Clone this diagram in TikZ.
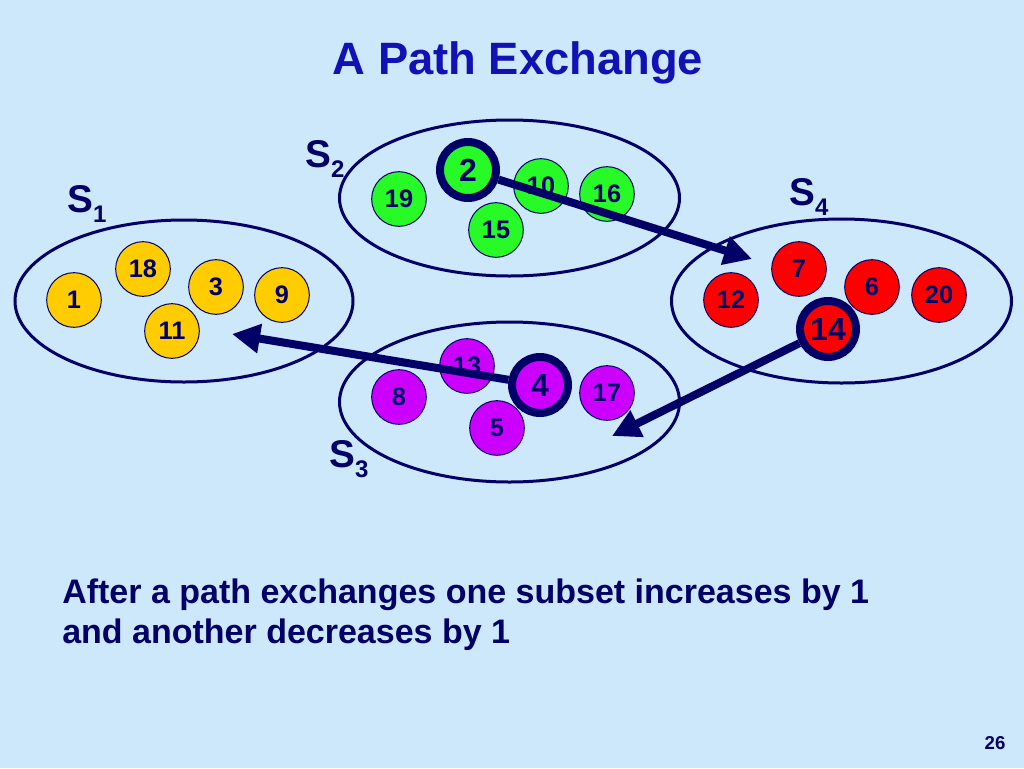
\documentclass[tikz,border=0pt]{standalone}
\usepackage{fontspec}
\setmainfont{Liberation Sans}
\usetikzlibrary{arrows.meta}
\definecolor{bg}{RGB}{204,232,250}
\definecolor{navy}{RGB}{0,0,102}
\definecolor{titleblue}{RGB}{17,17,180}
\definecolor{cgreen}{RGB}{40,250,40}
\definecolor{cyellow}{RGB}{255,204,0}
\definecolor{cred}{RGB}{255,0,0}
\definecolor{cpurple}{RGB}{204,0,255}
\newcommand{\setname}[1]{S{\fontsize{18}{18}\selectfont\raisebox{-7.5pt}{#1}}}
\begin{document}
\begin{tikzpicture}[x=0.75pt,y=-0.75pt,
  elem/.style={circle,draw=navy,line width=0.75pt,minimum size=41pt,inner sep=0pt,
    font=\fontsize{19}{19}\selectfont\bfseries,text=navy},
  moved/.style={elem,line width=6pt,minimum size=42pt,font=\fontsize{24}{24}\selectfont\bfseries},
  setring/.style={draw=navy,line width=2.25pt},
  move/.style={draw=navy,line width=6pt,-{Triangle[length=21pt,width=21pt]}},
  setlabel/.style={anchor=base west,inner sep=0pt,text=navy,font=\fontsize{29}{29}\selectfont\bfseries},
  body/.style={anchor=base west,inner sep=0pt,text=navy,font=\fontsize{25.5}{25.5}\selectfont\bfseries}]
\useasboundingbox (0,0) rectangle (1024,768);
\fill[bg] (0,0) rectangle (1024,768);

% title
\node[text=titleblue,font=\fontsize{34}{34}\selectfont\bfseries] (title) at (518,63) {A Path Exchange};

% set rings
\draw[setring] (184,301) ellipse [x radius=169, y radius=81];
\draw[setring] (509.5,198) ellipse [x radius=170, y radius=78];
\draw[setring] (509.5,402) ellipse [x radius=170, y radius=80];
\draw[setring] (841.5,301) ellipse [x radius=170, y radius=82];

% set labels
\node[setlabel] (l1) at (67,212) {\setname{1}};
\node[setlabel] (l2) at (305,167) {\setname{2}};
\node[setlabel] (l3) at (329,467) {\setname{3}};
\node[setlabel] (l4) at (789,205) {\setname{4}};

% S1
\node[elem,fill=cyellow] (n1) at (74,300) {1};
\node[elem,fill=cyellow] (n18) at (143,269) {18};
\node[elem,fill=cyellow] (n3) at (216,287) {3};
\node[elem,fill=cyellow] (n9) at (282,295) {9};
\node[elem,fill=cyellow] (n11) at (172,331) {11};
% S2
\node[elem,fill=cgreen] (n19) at (399,199) {19};
\node[elem,fill=cgreen] (n10) at (541,186) {10};
\node[elem,fill=cgreen] (n16) at (607,194) {16};
\node[elem,fill=cgreen] (n15) at (496,230) {15};
\node[moved,fill=cgreen] (n2) at (468,170) {2};
% S3
\node[elem,fill=cpurple] (n8) at (399,397) {8};
\node[elem,fill=cpurple] (n13) at (467,366) {13};
\node[elem,fill=cpurple] (n17) at (607,393) {17};
\node[elem,fill=cpurple] (n5) at (497,428) {5};
\node[moved,fill=cpurple] (n4) at (540,385) {4};
% S4
\node[elem,fill=cred] (n12) at (731,300) {12};
\node[elem,fill=cred] (n7) at (799,269) {7};
\node[elem,fill=cred] (n6) at (872,287) {6};
\node[elem,fill=cred] (n20) at (939,295) {20};
\node[moved,fill=cred] (n14) at (828,329) {14};

% arrows
\coordinate (c1) at (752,259);
\coordinate (c2) at (612,436);
\coordinate (c3) at (232,334);
\draw[move] (n2) -- (c1);
\draw[move] (n14) -- (c2);
\draw[move] (n4) -- (c3);

% body text
\node[body] (t1) at (62,603) {After a path exchanges one subset increases by 1};
\node[body] (t2) at (62,643) {and another decreases by 1};

% page number
\node[text=navy,font=\fontsize{14}{14}\selectfont\bfseries] (pg) at (995,743) {26};
\end{tikzpicture}
\end{document}
